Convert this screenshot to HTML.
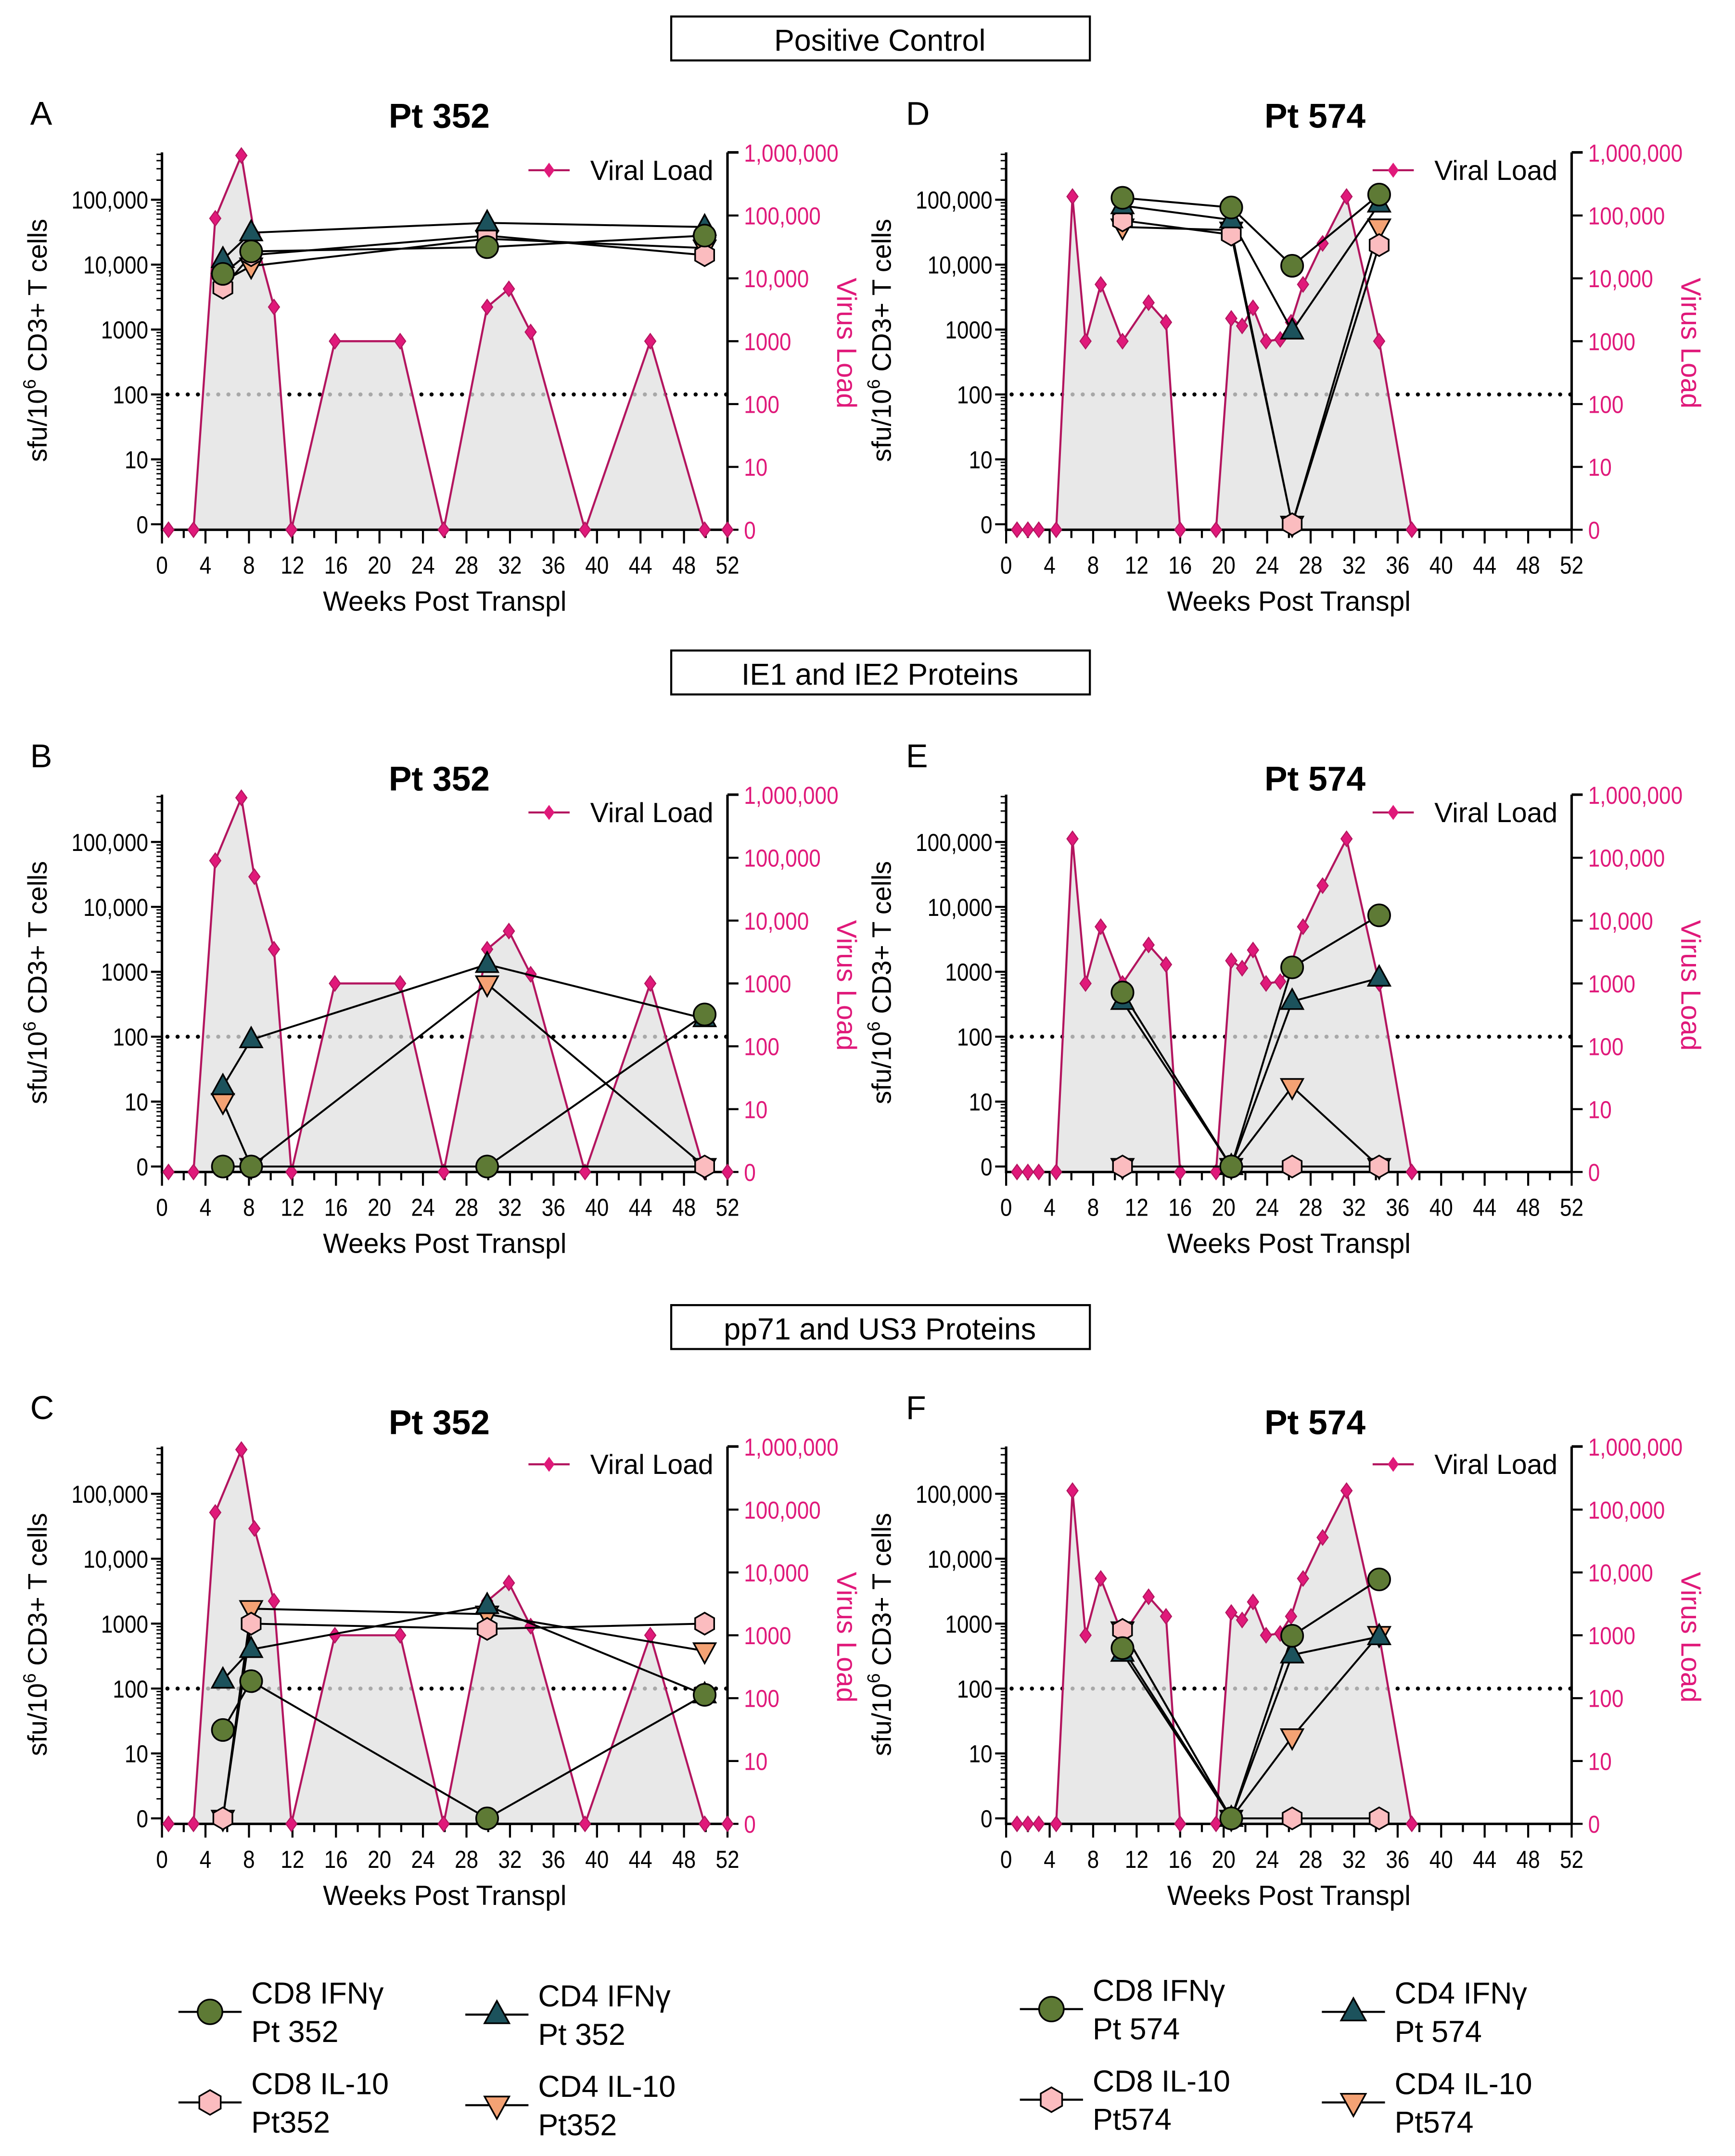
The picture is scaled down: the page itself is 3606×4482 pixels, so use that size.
<!DOCTYPE html>
<html><head><meta charset="utf-8">
<style>
html,body{margin:0;padding:0;background:#fff;}
svg{display:block;font-family:"Liberation Sans",Arial,sans-serif;}
</style></head>
<body>
<svg id="fig" width="3606" height="4482" viewBox="0 0 1264 1571" xmlns="http://www.w3.org/2000/svg"></svg>
<script>
// ---------- DATA ----------
const tcellWeeks352 = [5.6, 8.2, 29.9, 49.9];
const tcellWeeks574 = [10.7, 20.7, 26.3, 34.3];

const viralWeeks352 = [0.6, 2.9, 4.9, 7.3, 8.5, 10.3, 11.9, 15.9, 21.9, 25.9, 29.9, 31.9, 33.9, 38.9, 44.9, 49.9, 52];
const viralLoad352  = [0, 0, 90000, 900000, 50000, 3500, 0, 1000, 1000, 0, 3500, 6800, 1400, 0, 1000, 0, 0];
const viralWeeks574 = [1.0, 2.0, 3.0, 4.6, 6.1, 7.3, 8.7, 10.7, 13.1, 14.7, 16.0, 19.3, 20.7, 21.7, 22.7, 23.9, 25.2, 26.2, 27.3, 29.1, 31.3, 34.3, 37.3];
const viralLoad574  = [0, 0, 0, 0, 200000, 1000, 8000, 1000, 4100, 2000, 0, 0, 2300, 1750, 3400, 1000, 1070, 2000, 8000, 36000, 200000, 1000, 0];

// Panel A (positive control, Pt 352)
const A_cd8ifn = [7200, 16000, 18600, 28000];
const A_cd4ifn = [12000, 31000, 44000, 38000];
const A_cd8il10 = [4400, 14000, 28000, 14000];
const A_cd4il10 = [5500, 9500, 25000, 18000];
// Panel D (positive control, Pt 574)
const D_cd8ifn = [107000, 76000, 9600, 120000];
const D_cd4ifn = [81000, 49000, 950, 86000];
const D_cd8il10 = [48000, 29000, 0, 20000];
const D_cd4il10 = [38000, 34000, 0, 38000];
// Panel B (IE1/IE2, Pt 352)
const B_cd8ifn = [0, 0, 0, 220];
const B_cd4ifn = [17, 90, 1300, 190];
const B_cd8il10 = [0, 0, 0, 0];
const B_cd4il10 = [10, 0, 650, 0];
// Panel E (IE1/IE2, Pt 574)
const E_cd8ifn = [480, 0, 1170, 7400];
const E_cd4ifn = [350, 0, 350, 800];
const E_cd8il10 = [0, 0, 0, 0];
const E_cd4il10 = [0, 0, 17, 0];
// Panel C (pp71/US3, Pt 352)
const C_cd8ifn = [23, 130, 0, 80];
const C_cd4ifn = [135, 400, 1900, 80];
const C_cd8il10 = [0, 1000, 830, 1000];
const C_cd4il10 = [0, 1700, 1400, 380];
// Panel F (pp71/US3, Pt 574)
const F_cd8ifn = [420, 0, 650, 4800];
const F_cd4ifn = [350, 0, 330, 630];
const F_cd8il10 = [800, 0, 0, 0];
const F_cd4il10 = [800, 0, 18, 680];

const xTickLabels = ["0","4","8","12","16","20","24","28","32","36","40","44","48","52"];
const leftTickLabels = ["0","10","100","1000","10,000","100,000"];
const rightTickLabels = ["0","10","100","1000","10,000","100,000","1,000,000"];

// ---------- DRAWING ----------
const NS = "http://www.w3.org/2000/svg";
const svg = document.getElementById('fig');
function mk(tag, attrs, parent, text){
  const e = document.createElementNS(NS, tag);
  for (const k in attrs) e.setAttribute(k, attrs[k]);
  if (text !== undefined) e.textContent = text;
  (parent || svg).appendChild(e);
  return e;
}
const MAG = "#e0197a", MAGLINE = "#b3155f";
const COLORS = {circle:"#5e7a35", tri:"#1c525c", hex:"#fbbcbf", dtri:"#f4a274"};
const L = v => Math.log10(Math.max(v, 1));

function marker(shape, x, y, g, s){
  s = s || 8;
  let e;
  if (shape === 'circle') e = mk('circle', {cx:x, cy:y, r:s, fill:COLORS.circle, stroke:'#000','stroke-width':1.2}, g);
  else if (shape === 'tri') e = mk('polygon', {points:`${x},${y-s-1} ${x+s},${y+s*0.7} ${x-s},${y+s*0.7}`, fill:COLORS.tri, stroke:'#000','stroke-width':1.2}, g);
  else if (shape === 'dtri') e = mk('polygon', {points:`${x},${y+s+1} ${x+s},${y-s*0.7} ${x-s},${y-s*0.7}`, fill:COLORS.dtri, stroke:'#000','stroke-width':1.2}, g);
  else {
    const pts = [];
    for (let i=0;i<6;i++){ const a = Math.PI/6 + i*Math.PI/3; pts.push((x+s*Math.cos(a)).toFixed(2)+','+(y+s*Math.sin(a)).toFixed(2)); }
    e = mk('polygon', {points:pts.join(' '), fill:COLORS.hex, stroke:'#000','stroke-width':1.2}, g);
  }
  return e;
}

function cond(x){ return `translate(${x},0) scale(0.86,1) translate(${-x},0)`; }

function panel(name, letter, title, x0, oy, letterX, titleX, titleY, tWeeks, series, vWeeks, vLoad){
  const g = mk('g', {}); 
  
  
  const W = 412;
  const xs = w => x0 + w * W / 52;
  const ly = v => oy + 382 - L(v) * 47.3;
  const ry = v => oy + 386 - L(v) * 45.8;
  const top = oy + 111, bot = oy + 386;

  const lt = mk('text', {x:letterX, y:oy+91, 'font-size':24}, g, letter);
   
  const tt = mk('text', {x:titleX, y:titleY+9, 'font-size':25, 'font-weight':'bold', 'text-anchor':'middle'}, g, title);
   

  // threshold dotted line at 100
  const th = mk('line', {x1:x0+4, x2:x0+W, y1:ly(100), y2:ly(100), stroke:'#000','stroke-width':3,'stroke-dasharray':'0 7.4','stroke-linecap':'round'}, g);
   

  // viral area & line
  let pts = vWeeks.map((w,i)=> xs(w).toFixed(2)+','+ry(vLoad[i]).toFixed(2));
  const area = mk('polygon', {points: xs(vWeeks[0])+','+bot+' '+pts.join(' ')+' '+xs(vWeeks[vWeeks.length-1])+','+bot, fill:'rgba(224,224,224,0.75)'}, g);
   
  const vl = mk('polyline', {points: pts.join(' '), fill:'none', stroke:MAGLINE, 'stroke-width':1.5}, g);
   

  // axes
  const ax = mk('path', {d:`M${x0},${top} V${bot} H${x0+W} M${x0+W},${top} V${bot}`, stroke:'#000', 'stroke-width':1.8, fill:'none'}, g);
   
  mk('line', {x1:x0+W, x2:x0+W+8, y1:top, y2:top, stroke:'#000','stroke-width':1.8}, g);

  // x ticks
  for (let w=0; w<=52; w+=2){
    const major = w % 4 === 0;
    mk('line', {x1:xs(w), x2:xs(w), y1:bot, y2:bot+(major?10:6), stroke:'#000','stroke-width':1.5}, g);
  }
  xTickLabels.forEach((lab,i)=>{
    const t = mk('text', {x:xs(i*4), y:bot+32, 'font-size':18, 'text-anchor':'middle', transform:cond(xs(i*4))}, g, lab);
     
  });
  const xt = mk('text', {x:x0+W/2, y:bot+59, 'font-size':20, 'text-anchor':'middle'}, g, 'Weeks Post Transpl');
   

  // left ticks
  for (let d=0; d<=5; d++){
    mk('line', {x1:x0-8, x2:x0, y1:ly(Math.pow(10,d)), y2:ly(Math.pow(10,d)), stroke:'#000','stroke-width':1.5}, g);
    for (let k=2;k<=9;k++){
      const y = oy + 382 - (d + Math.log10(k)) * 47.3;
      if (y < top) break;
      mk('line', {x1:x0-4, x2:x0, y1:y, y2:y, stroke:'#000','stroke-width':1}, g);
    }
  }
  leftTickLabels.forEach((lab,i)=>{
    const y = ly(Math.pow(10,i));
    const t = mk('text', {x:x0-10, y:y+6.5, 'font-size':18, 'text-anchor':'end', transform:cond(x0-10)}, g, lab);
     
  });
  const yt = mk('text', {x:0, y:0, 'font-size':19.5, 'text-anchor':'middle', transform:`translate(${x0-84},${oy+248}) rotate(-90)`}, g);
   
  mk('tspan', {}, yt, 'sfu/10');
  mk('tspan', {dy:-8, 'font-size':13}, yt, '6');
  mk('tspan', {dy:8}, yt, ' CD3+ T cells');

  // right ticks
  rightTickLabels.forEach((lab,i)=>{
    const y = ry(Math.pow(10,i));
    mk('line', {x1:x0+W, x2:x0+W+8, y1:y, y2:y, stroke:'#000','stroke-width':1.5}, g);
    const t = mk('text', {x:x0+W+12, y:y+6.5, 'font-size':18, fill:MAG, transform:cond(x0+W+12)}, g, lab);
     
  });
  const rt = mk('text', {x:0, y:0, 'font-size':20, fill:MAG, 'text-anchor':'middle', transform:`translate(${x0+W+80},${oy+250}) rotate(90)`}, g, 'Virus Load');
   

  // viral markers
  vWeeks.forEach((w,i)=>{
    const x = xs(w), y = ry(vLoad[i]);
    const d = mk('polygon', {points:`${x},${y-5.5} ${x+4},${y} ${x},${y+5.5} ${x-4},${y}`, fill:MAG, stroke:MAGLINE,'stroke-width':0.8}, g);
     
  });

  // viral legend
  const lg = mk('g', {}, g);
   
  mk('line', {x1:x0+267, x2:x0+297, y1:oy+124, y2:oy+124, stroke:MAGLINE,'stroke-width':1.5}, lg);
  mk('polygon', {points:`${x0+282},${oy+118.5} ${x0+286},${oy+124} ${x0+282},${oy+129.5} ${x0+278},${oy+124}`, fill:MAG}, lg);
  mk('text', {x:x0+312, y:oy+131, 'font-size':20}, lg, 'Viral Load');

  // T cell series
  series.forEach(s=>{
    const sg = mk('g', {}, g);
     
    mk('polyline', {points: tWeeks.map((w,i)=> xs(w).toFixed(2)+','+ly(s.vals[i]).toFixed(2)).join(' '), fill:'none', stroke:'#000','stroke-width':1.4}, sg);
  });
  series.forEach(s=>{
    tWeeks.forEach((w,i)=>{
      const m = marker(s.shape, xs(w), ly(s.vals[i]), g);
       
    });
  });
}

function ser(a,b,c,d){ return [
  {name:'cd4-il10-series', shape:'dtri', vals:d},
  {name:'cd8-il10-series', shape:'hex', vals:c},
  {name:'cd4-ifng-series', shape:'tri', vals:b},
  {name:'cd8-ifng-series', shape:'circle', vals:a}
];}

// section headers
[["Positive Control",12],["IE1 and IE2 Proteins",474],["pp71 and US3 Proteins",951]].forEach(([t,y])=>{
  const g = mk('g', {});
   
  mk('rect', {x:489, y:y, width:305, height:32, fill:'#fff', stroke:'#000','stroke-width':1.5}, g);
  mk('text', {x:641, y:y+25, 'font-size':22, 'text-anchor':'middle'}, g, t);
});

panel('a','A','Pt 352',118,0,22,320,84,tcellWeeks352,ser(A_cd8ifn,A_cd4ifn,A_cd8il10,A_cd4il10),viralWeeks352,viralLoad352);
panel('d','D','Pt 574',733,0,660,958,84,tcellWeeks574,ser(D_cd8ifn,D_cd4ifn,D_cd8il10,D_cd4il10),viralWeeks574,viralLoad574);
panel('b','B','Pt 352',118,468,22,320,567,tcellWeeks352,ser(B_cd8ifn,B_cd4ifn,B_cd8il10,B_cd4il10),viralWeeks352,viralLoad352);
panel('e','E','Pt 574',733,468,660,958,567,tcellWeeks574,ser(E_cd8ifn,E_cd4ifn,E_cd8il10,E_cd4il10),viralWeeks574,viralLoad574);
panel('c','C','Pt 352',118,943,22,320,1036,tcellWeeks352,ser(C_cd8ifn,C_cd4ifn,C_cd8il10,C_cd4il10),viralWeeks352,viralLoad352);
panel('f','F','Pt 574',733,943,660,958,1036,tcellWeeks574,ser(F_cd8ifn,F_cd4ifn,F_cd8il10,F_cd4il10),viralWeeks574,viralLoad574);

// bottom legends
function legendItem(shape, x, y, l1, l2){
  const g = mk('g', {});
   
  mk('line', {x1:x-23, x2:x+23, y1:y, y2:y, stroke:'#000','stroke-width':1.5}, g);
  marker(shape, x, y, g, 9);
  mk('text', {x:x+30, y:y-6, 'font-size':22}, g, l1);
  mk('text', {x:x+30, y:y+22, 'font-size':22}, g, l2);
}
legendItem('circle', 153, 1466, 'CD8 IFNγ', 'Pt 352');
legendItem('tri', 362, 1468, 'CD4 IFNγ', 'Pt 352');
legendItem('hex', 153, 1532, 'CD8 IL-10', 'Pt352');
legendItem('dtri', 362, 1534, 'CD4 IL-10', 'Pt352');
legendItem('circle', 766, 1464, 'CD8 IFNγ', 'Pt 574');
legendItem('tri', 986, 1466, 'CD4 IFNγ', 'Pt 574');
legendItem('hex', 766, 1530, 'CD8 IL-10', 'Pt574');
legendItem('dtri', 986, 1532, 'CD4 IL-10', 'Pt574');
</script>
</body></html>
